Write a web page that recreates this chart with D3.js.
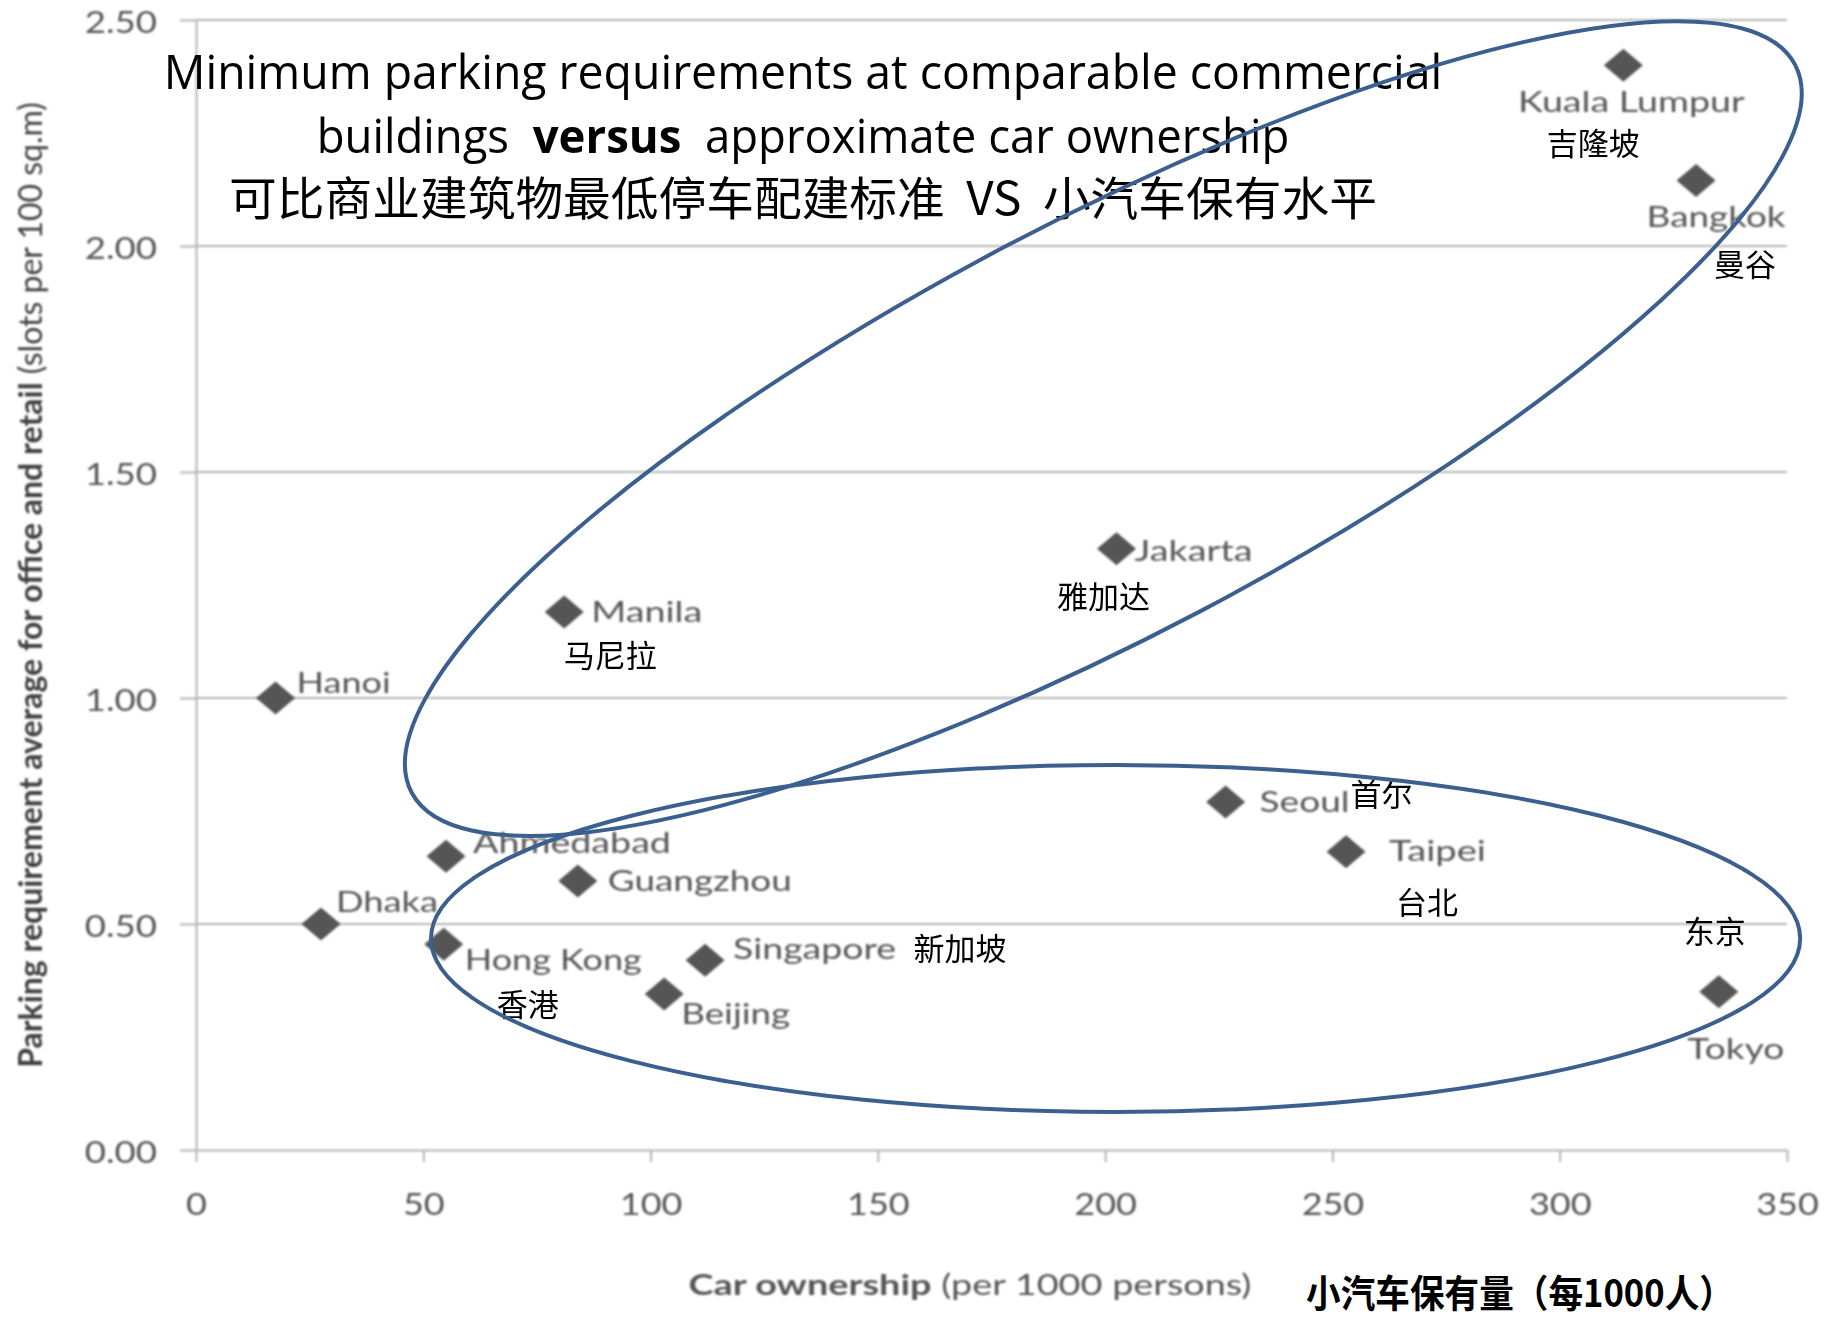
<!DOCTYPE html>
<html>
<head>
<meta charset="utf-8">
<script src="https://cdn.jsdelivr.net/npm/d3@7"></script>
<style>
  body { margin: 0; background: #fff; }
  svg { display: block; }
</style>
</head>
<body>
<svg id="chart" width="1825" height="1318"></svg>
<script>
// ---- data ----
const cities = ["Kuala Lumpur", "Bangkok", "Jakarta", "Manila", "Hanoi", "Seoul", "Taipei",
                "Ahmedabad", "Guangzhou", "Dhaka", "Hong Kong", "Singapore", "Beijing", "Tokyo"];
const citiesZh = ["吉隆坡", "曼谷", "雅加达", "马尼拉", "", "首尔", "台北",
                  "", "", "", "香港", "新加坡", "", "东京"];
// cars per 1000 persons
const carOwnership = [314, 330, 202.5, 81, 17.5, 226.5, 253, 55, 84, 27.5, 54.5, 112, 103, 335];
// parking slots per 100 sq.m (office and retail average)
const parkingReq = [2.40, 2.145, 1.33, 1.19, 1.00, 0.77, 0.66, 0.65, 0.595, 0.50, 0.455, 0.42, 0.345, 0.35];

const xTicks = [0, 50, 100, 150, 200, 250, 300, 350];
const yTicks = [0, 0.5, 1.0, 1.5, 2.0, 2.5];

const titleLines = [
  [["Minimum parking requirements at comparable commercial", 400]],
  [["buildings  ", 400], ["versus", 700], ["  approximate car ownership", 400]],
  [["可比商业建筑物最低停车配建标准  VS  小汽车保有水平", 400]]
];
const xTitle = [["Car ownership", 700], [" (per 1000 persons)", 400]];
const xTitleZh = "小汽车保有量（每1000人）";
const yTitle = [["Parking requirement average for office and retail", 700], [" (slots per 100 sq.m)", 400]];

// ---- label placement (pixel offsets from each marker) ----
const labelLayout = {
  "Kuala Lumpur": { dx: 8,  dy: 37,  anchor: "middle", w: 227, zx: -30, zy: 79 },
  "Bangkok":      { dx: 20, dy: 37,  anchor: "middle", w: 139, zx: 49,  zy: 85 },
  "Jakarta":      { dx: 18, dy: 2,   anchor: "start",  w: 118, zx: -13, zy: 48 },
  "Manila":       { dx: 27, dy: 0,   anchor: "start",  w: 111, zx: 46,  zy: 44 },
  "Hanoi":        { dx: 21, dy: -15, anchor: "start",  w: 94 },
  "Seoul":        { dx: 34, dy: 0,   anchor: "start",  w: 90,  zx: 156, zy: -7 },
  "Taipei":       { dx: 43, dy: 0,   anchor: "start",  w: 97,  zx: 81,  zy: 51 },
  "Ahmedabad":    { dx: 27, dy: -13, anchor: "start",  w: 198 },
  "Guangzhou":    { dx: 30, dy: 0,   anchor: "start",  w: 184 },
  "Dhaka":        { dx: 15, dy: -22, anchor: "start",  w: 102 },
  "Hong Kong":    { dx: 21, dy: 16,  anchor: "start",  w: 177, zx: 84,  zy: 61 },
  "Singapore":    { dx: 28, dy: -11, anchor: "start",  w: 163, zx: 255, zy: -11 },
  "Beijing":      { dx: 17, dy: 20,  anchor: "start",  w: 109 },
  "Tokyo":        { dx: 17, dy: 57,  anchor: "middle", w: 97,  zx: -4,  zy: -60 }
};

// ---- chart ----
const svg = d3.select("#chart");
const x = d3.scaleLinear().domain([0, 350]).range([196, 1787]);
const y = d3.scaleLinear().domain([0, 2.5]).range([1150, 20]);

const defs = svg.append("defs");
defs.append("filter").attr("id", "soft").attr("x", "-20%").attr("y", "-50%").attr("width", "140%").attr("height", "200%")
  .append("feGaussianBlur").attr("stdDeviation", 0.9);
defs.append("filter").attr("id", "softer").attr("x", "-30%").attr("y", "-30%").attr("width", "160%").attr("height", "160%")
  .append("feGaussianBlur").attr("stdDeviation", 1.3);

const gridColor = "#b4b4b4";
const textGray = "#555555";

// text helper: positions a text block and stretches it horizontally to a given width
function placeText(parent, o) {
  const g = parent.append("g")
    .attr("transform", `translate(${o.x},${o.y})` + (o.rotate ? ` rotate(${o.rotate})` : ""));
  if (o.filter) g.attr("filter", o.filter);
  const t = g.append("text")
    .attr("text-anchor", o.anchor || "middle")
    .attr("dy", o.dy == null ? "0.35em" : o.dy)
    .style("white-space", "pre")
    .attr("font-family", o.family)
    .attr("font-size", o.size)
    .attr("fill", o.fill);
  o.parts.forEach(([s, wt]) => t.append("tspan").attr("font-weight", wt).text(s));
  if (o.width) {
    const len = t.node().getComputedTextLength();
    t.attr("transform", `scale(${o.width / len},1)`);
  } else if (o.sx) {
    t.attr("transform", `scale(${o.sx},1)`);
  }
  return t;
}

// horizontal gridlines
svg.append("g").attr("filter", "url(#soft)")
  .selectAll("line").data(yTicks.filter(d => d > 0)).join("line")
  .attr("x1", x(0)).attr("x2", x(350))
  .attr("y1", d => y(d)).attr("y2", d => y(d))
  .attr("stroke", gridColor).attr("stroke-width", 2);

// y axis
const yAxis = svg.append("g").attr("transform", `translate(${x(0)},0)`)
  .attr("filter", "url(#soft)")
  .call(d3.axisLeft(y).tickValues(yTicks).tickSizeInner(16).tickSizeOuter(0).tickFormat(d3.format(".2f")));
yAxis.select(".domain").attr("stroke", gridColor).attr("stroke-width", 2);
yAxis.selectAll(".tick line").attr("stroke", gridColor).attr("stroke-width", 2);
yAxis.selectAll(".tick text")
  .attr("x", null).attr("dy", "0.35em")
  .attr("transform", "translate(-39,2) scale(1.22,1)")
  .attr("font-family", "Lato").attr("font-size", 30).attr("fill", textGray);

// x axis
const xAxis = svg.append("g").attr("transform", `translate(0,${y(0)})`)
  .attr("filter", "url(#soft)")
  .call(d3.axisBottom(x).tickValues(xTicks).tickSizeInner(12).tickSizeOuter(0));
xAxis.select(".domain").attr("stroke", gridColor).attr("stroke-width", 2);
xAxis.selectAll(".tick line").attr("stroke", gridColor).attr("stroke-width", 2);
xAxis.selectAll(".tick text")
  .attr("y", 55).attr("dy", "0.35em")
  .attr("transform", "scale(1.2,1)")
  .attr("font-family", "Lato").attr("font-size", 30).attr("fill", textGray);
// extend the y-axis line slightly below the x axis, like a tick at zero
svg.append("line").attr("x1", x(0)).attr("x2", x(0)).attr("y1", y(0)).attr("y2", y(0) + 12)
  .attr("stroke", gridColor).attr("stroke-width", 2).attr("filter", "url(#soft)");

// axis titles
placeText(svg, { x: 31, y: 585, rotate: -90, width: 966, family: "Lato", size: 32,
  fill: "#404040", parts: yTitle, filter: "url(#soft)" });
placeText(svg, { x: 970, y: 1285, width: 563, family: "Lato", size: 29,
  fill: textGray, parts: xTitle, filter: "url(#soft)" });
placeText(svg, { x: 1520, y: 1294, width: 428, family: "Noto Sans CJK SC", size: 38,
  fill: "#000", parts: [[xTitleZh, 700]] });

// markers
const points = cities.map((c, i) => ({ name: c, zh: citiesZh[i], cx: carOwnership[i], py: parkingReq[i] }));
svg.append("g").attr("filter", "url(#softer)")
  .selectAll("path").data(points).join("path")
  .attr("transform", d => `translate(${x(d.cx)},${y(d.py)})`)
  .attr("d", "M0,-16.5L19.5,0L0,16.5L-19.5,0Z")
  .attr("fill", "#555555");

// English labels
const enLayer = svg.append("g");
points.forEach(d => {
  const L = labelLayout[d.name];
  placeText(enLayer, { x: x(d.cx) + L.dx, y: y(d.py) + L.dy, anchor: L.anchor, width: L.w,
    family: "Lato", size: 28, fill: textGray, parts: [[d.name, 400]], filter: "url(#soft)" });
});

// Chinese labels
const zhLayer = svg.append("g");
points.filter(d => d.zh).forEach(d => {
  const L = labelLayout[d.name];
  placeText(zhLayer, { x: x(d.cx) + L.zx, y: y(d.py) + L.zy, anchor: "middle",
    family: "Noto Sans CJK SC", size: 31, fill: "#000", parts: [[d.zh, 400]] });
});

// title
const titleX = 803;
placeText(svg, { x: titleX, y: 89, dy: 0, width: 1279, family: "Open Sans", size: 47, fill: "#000", parts: titleLines[0] });
placeText(svg, { x: titleX, y: 153, dy: 0, width: 973, family: "Open Sans", size: 47, fill: "#000", parts: titleLines[1] });
placeText(svg, { x: titleX, y: 215, dy: 0, width: 1148, family: "Noto Sans CJK SC", size: 46, fill: "#000", parts: titleLines[2] });

// grouping ellipses
const ellipseColor = "#3b5f8e";
const upper = { cx: x(199.6), cy: y(1.596), rx: 781.6, ry: 206.8, angle: -27.75 };
const lower = { cx: x(202.3), cy: y(0.468), rx: 684.6, ry: 173.5, angle: 0 };
svg.append("g").selectAll("ellipse").data([upper, lower]).join("ellipse")
  .attr("cx", d => d.cx).attr("cy", d => d.cy)
  .attr("rx", d => d.rx).attr("ry", d => d.ry)
  .attr("transform", d => `rotate(${d.angle},${d.cx},${d.cy})`)
  .attr("fill", "none").attr("stroke", ellipseColor).attr("stroke-width", 4);
</script>
</body>
</html>
